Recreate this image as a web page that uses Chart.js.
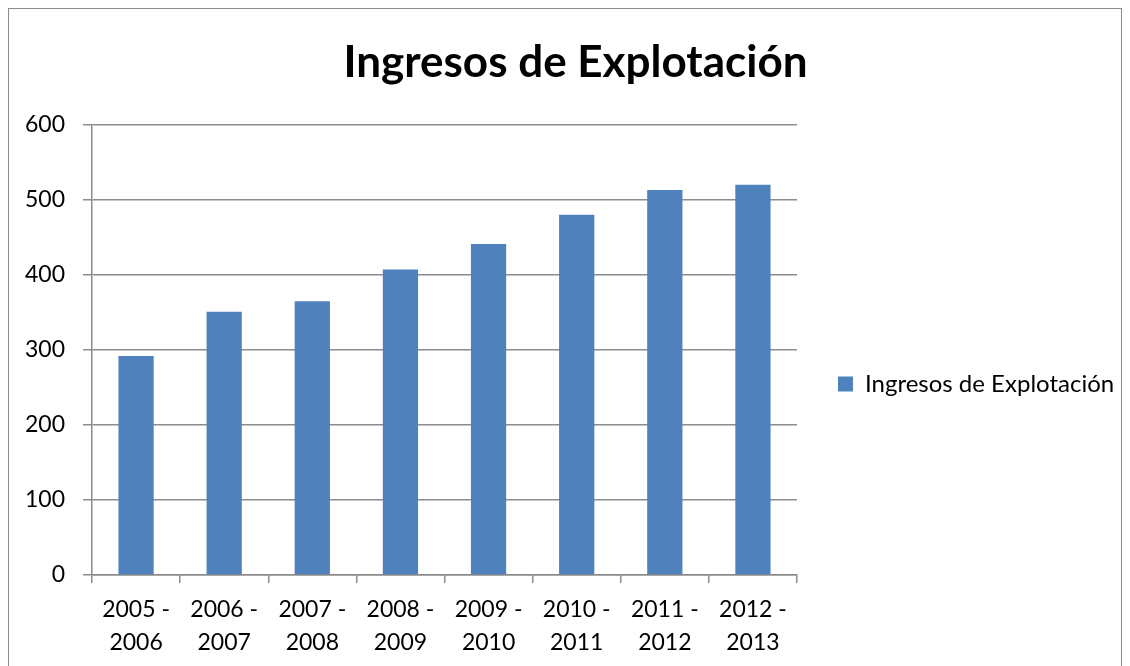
<!DOCTYPE html>
<html><head><meta charset="utf-8">
<script src="https://cdn.jsdelivr.net/npm/chart.js@4"></script>
<style>
html,body{margin:0;padding:0;background:#fff;overflow:hidden}
#wrap{position:absolute;left:0;top:0;width:1130px;height:666px}
#frame{position:absolute;left:8px;top:8px;width:1112px;height:700px;border:1px solid #8c8c8c;border-bottom:none}
canvas{position:absolute;left:0;top:0}
</style></head><body>
<div id="wrap"><div id="frame"></div><canvas id="c" width="1130" height="666"></canvas></div>
<script>
const categories = [["2005 -","2006"],["2006 -","2007"],["2007 -","2008"],["2008 -","2009"],["2009 -","2010"],["2010 -","2011"],["2011 -","2012"],["2012 -","2013"]];
const seriesName = "Ingresos de Explotación";
const values = [292, 351, 365, 407, 441, 480, 513, 520];
const yTicks = [0, 100, 200, 300, 400, 500, 600];
const FONT = "Lato, 'Open Sans', sans-serif";
Chart.defaults.font.family = FONT;
Chart.defaults.color = "#000";

const legendWidthPlugin = {
  id: 'legendWidth',
  beforeLayout(chart) {
    const lg = chart.legend;
    if (lg && !lg._patched) {
      const orig = lg.fit.bind(lg);
      lg.fit = function () { orig(); this.width = 354; };
      lg._patched = true;
    }
  }
};

new Chart(document.getElementById('c'), {
  type: 'bar',
  data: { labels: categories, datasets: [{ label: seriesName, data: values, backgroundColor: '#4F81BD', borderColor: '#4F81BD', borderWidth: 0, barPercentage: 0.4, categoryPercentage: 1.0 }] },
  plugins: [legendWidthPlugin],
  options: {
    responsive: false, animation: false,
    layout: { padding: { left: 0, right: -21, top: 0, bottom: 0 } },
    plugins: {
      title: { display: true, text: seriesName, font: { size: 44, weight: 'bold', family: FONT, lineHeight: 1.2 }, color: '#000', padding: { top: 36, bottom: 36 } },
      legend: {
        position: 'right',
        title: { display: true, text: ' ', font: { size: 10, lineHeight: 1 }, padding: { top: 0, bottom: 92 } },
        labels: { boxWidth: 15, boxHeight: 15, font: { size: 24 }, color: '#000', padding: 41 }
      },
      tooltip: { enabled: false }
    },
    scales: {
      x: {
        grid: { display: true, drawOnChartArea: false, drawTicks: true, tickLength: 8, color: '#8c8c8c', lineWidth: 1.5, offset: true },
        border: { display: true, color: '#8c8c8c', width: 1.5 },
        ticks: { font: { size: 23, lineHeight: 1.435 }, color: '#000', padding: 10, maxRotation: 0, autoSkip: false },
        afterFit: s => { s.height = 91; }
      },
      y: {
        min: 0, max: 600,
        afterBuildTicks: s => { s.ticks = yTicks.map(v => ({ value: v })); },
        grid: { color: '#8c8c8c', lineWidth: 1.5, tickLength: 9 },
        border: { display: true, color: '#8c8c8c', width: 1.5 },
        ticks: { font: { size: 23 }, color: '#000', padding: 18 },
        afterFit: s => { s.width = 92; }
      }
    }
  }
});
</script></body></html>
